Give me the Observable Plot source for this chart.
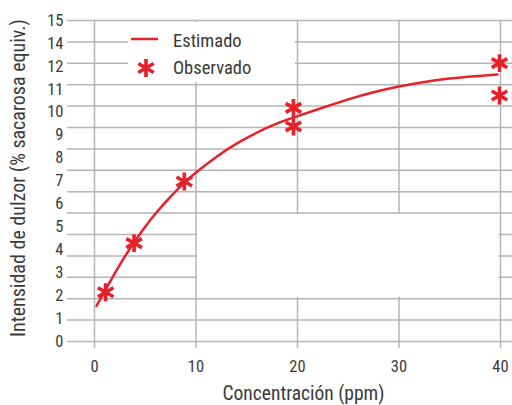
<!DOCTYPE html>
<html>
<head>
<meta charset="utf-8">
<script src="https://cdn.jsdelivr.net/npm/d3@7"></script>
<script src="https://cdn.jsdelivr.net/npm/@observablehq/plot@0.6"></script>
<style>
  html, body { margin: 0; padding: 0; background: #ffffff; }
  #chart svg { display: block; }
</style>
</head>
<body>
<div id="chart"></div>
<script>
// ---- data ----
const xTicks = [0, 10, 20, 30, 40];
// tick labels printed on the y axis (note: "13" is absent in the original)
const yTickLabels = ["0", "1", "2", "3", "4", "5", "6", "7", "8", "9", "10", "11", "12", "14", "15"];
const gridRowCount = 16; // horizontal grid lines drawn in the original

// Observado (asterisks)
const obsX = [1.1, 3.9, 8.85, 19.6, 19.6, 39.9, 39.9];
const obsY = [2.15, 4.29, 6.98, 10.19, 9.38, 12.14, 10.73];

// Estimado (fitted curve)
const estX = [0.2, 1, 2, 3, 4, 5, 6, 7, 8, 9, 10, 12, 14, 16, 18, 20, 22.5, 25, 27.5, 30, 32.5, 35, 37.5, 39.7];
const estY = [1.55, 2.19, 2.97, 3.71, 4.39, 5.01, 5.57, 6.08, 6.55, 6.98, 7.37, 8.05, 8.63, 9.11, 9.51, 9.83, 10.2, 10.56, 10.87, 11.12, 11.32, 11.47, 11.57, 11.64];

// blank patch in the grid of the original (x range, grid-row range)
const gridGaps = [{x1: 10, x2: 40, row1: 2, row2: 6}];

const xTitle = "Concentración (ppm)";
const yTitle = "Intensidad de dulzor (% sacarosa equiv.)";
const legendItems = ["Estimado", "Observado"];

// ---- derived tables ----
const yMax = yTickLabels.length - 1;
const rowToY = k => k * yMax / (gridRowCount - 1);
const gridRows = d3.range(gridRowCount).map(rowToY);
const obs = obsX.map((x, i) => ({x, y: obsY[i]}));
const est = estX.map((x, i) => ({x, y: estY[i]}));
const gaps = gridGaps.map(g => ({x1: g.x1, x2: g.x2, y1: rowToY(g.row1), y2: rowToY(g.row2)}));

const RED = "#e8202a";
const GRID = "#b5b5b5";
const INK = "#3a3a3a";
const FONT = "'Roboto Condensed', Roboto, 'Liberation Sans', sans-serif";

const chart = Plot.plot({
  width: 512,
  height: 405,
  marginLeft: 94,
  marginRight: 12,
  marginTop: 20,
  marginBottom: 64,
  style: {fontFamily: FONT, fontSize: "16.5px", color: INK, background: "#ffffff"},
  x: {domain: [0, 40], ticks: xTicks, tickSize: 0, tickPadding: 19, label: null},
  y: {domain: [0, yMax], ticks: d3.range(yTickLabels.length), tickFormat: i => yTickLabels[i], tickSize: 0, tickPadding: 31, label: null},
  marks: [
    Plot.ruleY(gridRows, {stroke: GRID, strokeWidth: 1.5, insetLeft: -27, insetRight: -12}),
    Plot.ruleX(xTicks, {stroke: GRID, strokeWidth: 1.5, insetBottom: -7}),
    Plot.rect(gaps, {x1: "x1", x2: "x2", y1: "y1", y2: "y2", fill: "#ffffff", inset: 1.5}),
    Plot.line(est, {x: "x", y: "y", stroke: RED, strokeWidth: 2.5, curve: "natural"}),
    Plot.dot(obs, {x: "x", y: "y", symbol: "asterisk", r: 8.5, stroke: RED, strokeWidth: 3.6}),
    Plot.text([xTitle], {frameAnchor: "bottom", textAnchor: "middle", dx: 6, dy: 52, lineAnchor: "middle", fontSize: 19.5, fill: INK}),
    Plot.text([yTitle], {frameAnchor: "left", textAnchor: "middle", rotate: -90, dx: -76, dy: -3, lineAnchor: "middle", fontSize: 20, fill: INK})
  ]
});

// legend (inside the plotting area, on a white box)
const svg = d3.select(chart);
const lg = svg.append("g").attr("font-family", FONT).attr("font-size", 18.5)
  .attr("fill", INK).attr("text-anchor", "start");
lg.append("rect").attr("x", 128).attr("y", 22).attr("width", 167).attr("height", 60).attr("fill", "#ffffff");
lg.append("line").attr("x1", 131).attr("x2", 158).attr("y1", 39).attr("y2", 39)
  .attr("stroke", RED).attr("stroke-width", 2.5);
lg.append("text").attr("x", 173).attr("y", 46.5).text(legendItems[0]);
lg.append("path").attr("transform", "translate(146,68)")
  .attr("d", d3.symbol(d3.symbolAsterisk, 8.5 * 8.5 * Math.PI)())
  .attr("fill", "none").attr("stroke", RED).attr("stroke-width", 3.6);
lg.append("text").attr("x", 173).attr("y", 73.5).text(legendItems[1]);

document.getElementById("chart").appendChild(chart);
</script>
</body>
</html>
